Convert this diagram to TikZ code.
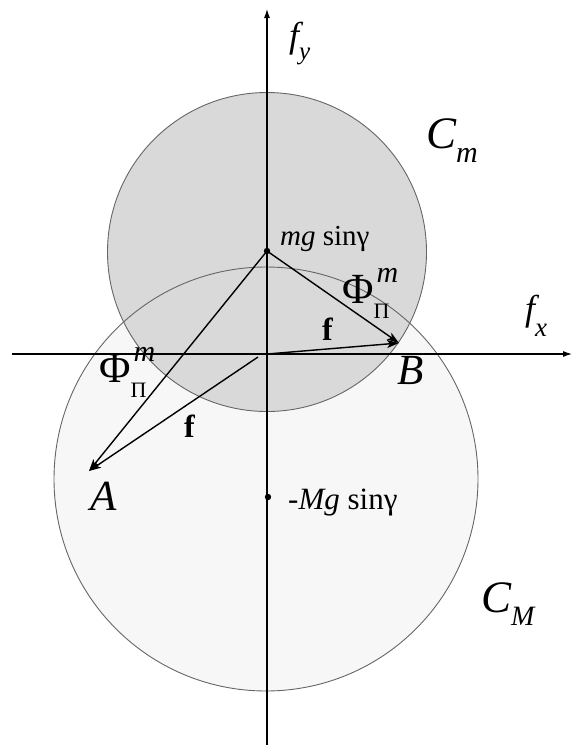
\documentclass[tikz,border=0pt]{standalone}
\usepackage{fontspec}
\setmainfont{Liberation Serif}
\usepackage{tikz}
\usetikzlibrary{arrows.meta}

\newcommand{\lowsub}[3]{#1\raisebox{#2}{#3}}
\newcommand{\phipm}{Φ\rlap{\kern3pt\raisebox{21pt}{\fontsize{30}{30}\selectfont\itshape m}}%
  \raisebox{-15pt}{\fontsize{22}{22}\selectfont Π}}
\tikzset{
  axis/.style={line width=1.1pt, -{Latex[length=9pt,width=6pt]}},
  vec/.style={line width=1.4pt, -{Stealth[length=12pt,width=8pt,inset=3pt]}},
  rim/.style={draw=black!60, line width=0.9pt},
  lbl/.style={inner sep=0pt, anchor=base west}
}

\begin{document}
\begin{tikzpicture}[x=1pt,y=-1pt]
  \useasboundingbox (0,0) rectangle (575,745);
  %% the two circles
  \fill[black!3] (266,479) circle (212);
  \fill[black!15] (267,252) circle (159.5);
  \draw[rim] (266,479) circle (212);
  \draw[rim] (267,252) circle (159.5);
  %% axes
  \coordinate (xl) at (12,354);
  \coordinate (xr) at (572,354);
  \coordinate (yb) at (267,745);
  \coordinate (yt) at (267,9);
  \draw[axis] (xl) -- (xr);
  \draw[axis] (yb) -- (yt);
  %% points
  \coordinate (O) at (267,354);
  \coordinate (Pm) at (267,251);
  \coordinate (PM) at (268,497);
  \coordinate (A) at (89,471);
  \coordinate (B) at (399,343);
  \coordinate (Fs) at (258,357);
  \fill (Pm) circle (3.2);
  \fill (PM) circle (3.2);
  %% vectors
  \draw[vec] (Pm) -- (A);
  \draw[vec] (Pm) -- (B);
  \draw[vec] (O) -- (B);
  \draw[vec] (Fs) -- (A);
  %% labels
  \node[lbl, font=\fontsize{36}{40}\selectfont\itshape] (ly) at (289,47)
    {\lowsub{f}{-12pt}{\fontsize{25}{25}\selectfont y}};
  \node[lbl, font=\fontsize{36}{40}\selectfont\itshape] (lx) at (525,320)
    {\lowsub{f}{-16pt}{\fontsize{27}{27}\selectfont x}};
  \node[lbl, font=\fontsize{45}{50}\selectfont\itshape] (lCm) at (426,148)
    {\lowsub{C}{-14pt}{\fontsize{30}{30}\selectfont m}};
  \node[lbl, font=\fontsize{45}{50}\selectfont\itshape] (lCM) at (481,612)
    {\lowsub{C}{-13pt}{\fontsize{28}{28}\selectfont M}};
  \node[lbl, font=\fontsize{29}{34}\selectfont] (lmg) at (280,245) {\textit{mg} sinγ};
  \node[lbl, font=\fontsize{31}{36}\selectfont] (lMg) at (288,509) {-\textit{Mg} sinγ};
  \node[lbl, font=\fontsize{43}{48}\selectfont] (lP1) at (342,303) {\phipm};
  \node[lbl, font=\fontsize{43}{48}\selectfont] (lP2) at (99,382) {\phipm};
  \node[lbl, font=\fontsize{32}{38}\selectfont\bfseries] (lf1) at (322,340) {f};
  \node[lbl, font=\fontsize{32}{38}\selectfont\bfseries] (lf2) at (184,437) {f};
  \node[lbl, font=\fontsize{43}{50}\selectfont\itshape] (lA) at (90,510) {A};
  \node[lbl, font=\fontsize{43}{50}\selectfont\itshape] (lB) at (397,384) {B};
\end{tikzpicture}
\end{document}
